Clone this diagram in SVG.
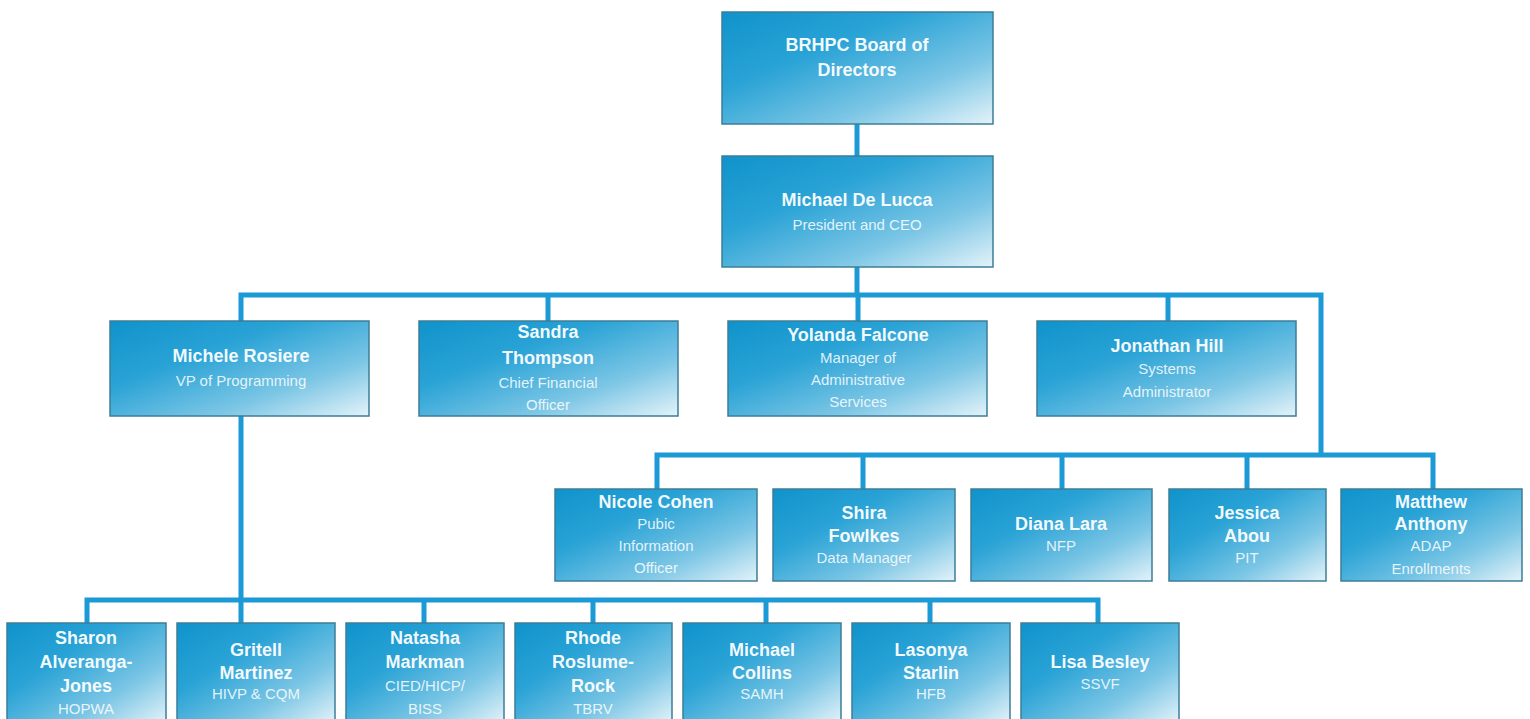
<svg xmlns="http://www.w3.org/2000/svg" width="1530" height="719" viewBox="0 0 1530 719">
<defs>
<linearGradient id="g" x1="0" y1="0" x2="1" y2="1">
<stop offset="0" stop-color="#0f93cb"/>
<stop offset="0.35" stop-color="#2aa3d6"/>
<stop offset="0.7" stop-color="#7cc6e5"/>
<stop offset="1" stop-color="#e4f3f9"/>
</linearGradient>
</defs>
<style>
.box{fill:url(#g);stroke:#3c7d98;stroke-width:1.5}
.n{font-family:"Liberation Sans",Arial,sans-serif;font-weight:bold;font-size:18px;fill:#ffffff;fill-opacity:0.95;text-anchor:middle}
.t{font-family:"Liberation Sans",Arial,sans-serif;font-size:15px;fill:#ffffff;fill-opacity:0.85;text-anchor:middle}
.c{fill:none;stroke:#1b9ad6;stroke-width:5}
</style>
<rect width="1530" height="719" fill="#ffffff"/>
<g id="connectors">
<path class="c" d="M857 124V156"/>
<path class="c" d="M857 267V295"/>
<path class="c" d="M241 321V295H1321V455"/>
<path class="c" d="M548 295V321M858 295V321M1168 295V321"/>
<path class="c" d="M657 489V455H1433V489"/>
<path class="c" d="M863 455V489M1062 455V489M1247 455V489"/>
<path class="c" d="M241 416V623"/>
<path class="c" d="M87 623V600H1098V623"/>
<path class="c" d="M424 600V623M593 600V623M766 600V623M930 600V623"/>
</g>
<g id="board"><rect class="box" x="722" y="12" width="271" height="112"/><text class="n" x="857" y="51">BRHPC Board of</text><text class="n" x="857" y="76">Directors</text></g>
<g id="ceo"><rect class="box" x="722" y="156" width="271" height="111"/><text class="n" x="857" y="206">Michael De Lucca</text><text class="t" x="857" y="230">President and CEO</text></g>
<g id="michele"><rect class="box" x="110" y="321" width="259" height="95"/><text class="n" x="241" y="362">Michele Rosiere</text><text class="t" x="241" y="386">VP of Programming</text></g>
<g id="sandra"><rect class="box" x="419" y="321" width="259" height="95"/><text class="n" x="548" y="338">Sandra</text><text class="n" x="548" y="364">Thompson</text><text class="t" x="548" y="388">Chief Financial</text><text class="t" x="548" y="410">Officer</text></g>
<g id="yolanda"><rect class="box" x="728" y="321" width="259" height="95"/><text class="n" x="858" y="341">Yolanda Falcone</text><text class="t" x="858" y="363">Manager of</text><text class="t" x="858" y="385">Administrative</text><text class="t" x="858" y="407">Services</text></g>
<g id="jonathan"><rect class="box" x="1037" y="321" width="259" height="95"/><text class="n" x="1167" y="352">Jonathan Hill</text><text class="t" x="1167" y="374">Systems</text><text class="t" x="1167" y="397">Administrator</text></g>
<g id="nicole"><rect class="box" x="555" y="489" width="202" height="92"/><text class="n" x="656" y="508">Nicole Cohen</text><text class="t" x="656" y="529">Pubic</text><text class="t" x="656" y="551">Information</text><text class="t" x="656" y="573">Officer</text></g>
<g id="shira"><rect class="box" x="773" y="489" width="182" height="92"/><text class="n" x="864" y="519">Shira</text><text class="n" x="864" y="542">Fowlkes</text><text class="t" x="864" y="563">Data Manager</text></g>
<g id="diana"><rect class="box" x="971" y="489" width="181" height="92"/><text class="n" x="1061" y="530">Diana Lara</text><text class="t" x="1061" y="551">NFP</text></g>
<g id="jessica"><rect class="box" x="1169" y="489" width="157" height="92"/><text class="n" x="1247" y="519">Jessica</text><text class="n" x="1247" y="542">Abou</text><text class="t" x="1247" y="563">PIT</text></g>
<g id="matthew"><rect class="box" x="1341" y="489" width="181" height="92"/><text class="n" x="1431" y="508">Matthew</text><text class="n" x="1431" y="530">Anthony</text><text class="t" x="1431" y="551">ADAP</text><text class="t" x="1431" y="574">Enrollments</text></g>
<g id="sharon"><rect class="box" x="7" y="623" width="159" height="100"/><text class="n" x="86" y="644">Sharon</text><text class="n" x="86" y="668">Alveranga-</text><text class="n" x="86" y="692">Jones</text><text class="t" x="86" y="714">HOPWA</text></g>
<g id="gritell"><rect class="box" x="177" y="623" width="158" height="100"/><text class="n" x="256" y="656">Gritell</text><text class="n" x="256" y="679">Martinez</text><text class="t" x="256" y="699">HIVP &amp; CQM</text></g>
<g id="natasha"><rect class="box" x="346" y="623" width="158" height="100"/><text class="n" x="425" y="644">Natasha</text><text class="n" x="425" y="668">Markman</text><text class="t" x="425" y="691">CIED/HICP/</text><text class="t" x="425" y="714">BISS</text></g>
<g id="rhode"><rect class="box" x="515" y="623" width="157" height="100"/><text class="n" x="593" y="644">Rhode</text><text class="n" x="593" y="668">Roslume-</text><text class="n" x="593" y="692">Rock</text><text class="t" x="593" y="714">TBRV</text></g>
<g id="collins"><rect class="box" x="683" y="623" width="158" height="100"/><text class="n" x="762" y="656">Michael</text><text class="n" x="762" y="679">Collins</text><text class="t" x="762" y="699">SAMH</text></g>
<g id="lasonya"><rect class="box" x="852" y="623" width="158" height="100"/><text class="n" x="931" y="656">Lasonya</text><text class="n" x="931" y="679">Starlin</text><text class="t" x="931" y="699">HFB</text></g>
<g id="lisa"><rect class="box" x="1021" y="623" width="158" height="100"/><text class="n" x="1100" y="668">Lisa Besley</text><text class="t" x="1100" y="689">SSVF</text></g>
</svg>
